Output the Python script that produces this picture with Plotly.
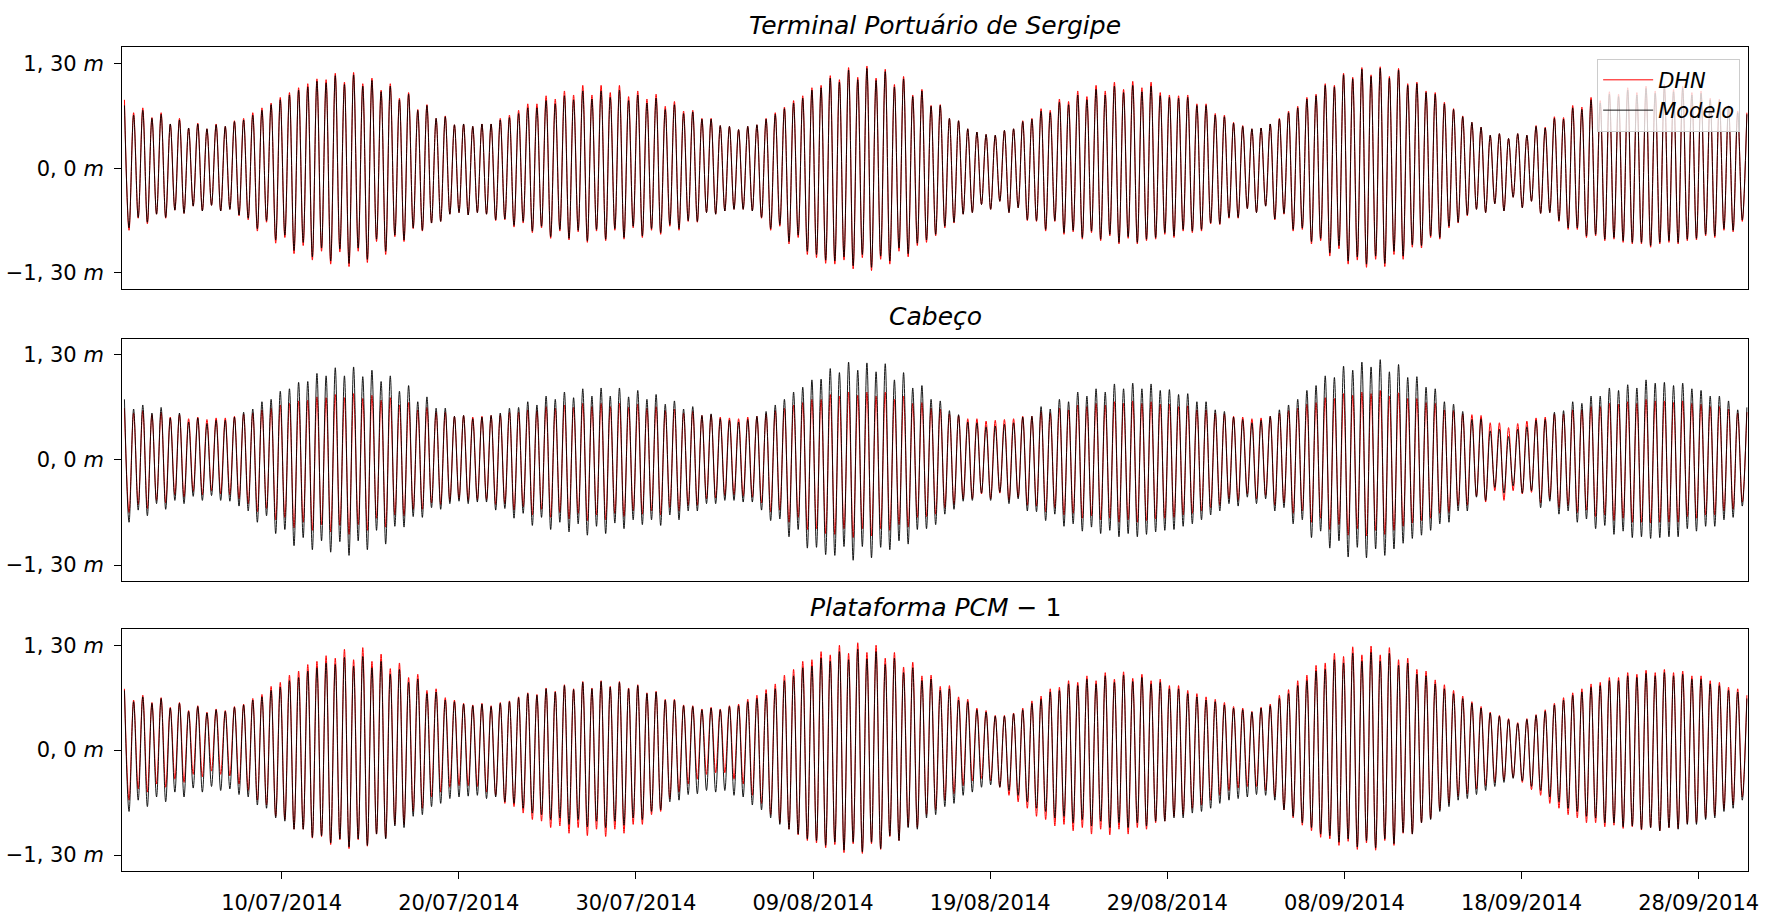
import pandas as pd
import plotly.graph_objects as go

# Tide extremes (metres): alternating high / low waters, first high at 01/07/2014 03:00
FIRST_HIGH = "2014-07-01 03:00"
TIDE_PERIOD_H = 12.42

# ---------------- Terminal Portuário de Sergipe ----------------
tps_dhn_high = [
    0.85, 0.69, 0.75, 0.63, 0.69, 0.55, 0.62, 0.50, 0.56, 0.49,
    0.55, 0.52, 0.59, 0.62, 0.69, 0.75, 0.81, 0.88, 0.94, 1.00,
    1.05, 1.11, 1.10, 1.18, 1.07, 1.19, 1.05, 1.12, 0.97, 1.05,
    0.87, 0.94, 0.73, 0.79, 0.62, 0.65, 0.54, 0.55, 0.52, 0.55,
    0.55, 0.62, 0.66, 0.72, 0.80, 0.80, 0.90, 0.86, 0.96, 0.91,
    1.03, 0.91, 1.03, 0.94, 1.03, 0.89, 0.96,
    0.86, 0.92, 0.77, 0.83, 0.71, 0.72, 0.62, 0.62, 0.53, 0.52,
    0.48, 0.52, 0.54, 0.62, 0.69, 0.76, 0.84, 0.90, 1.00, 1.03,
    1.15, 1.10, 1.25, 1.13, 1.27, 1.12, 1.23, 1.04, 1.14, 0.91,
    0.98, 0.78, 0.79, 0.62, 0.59, 0.49, 0.45, 0.42, 0.41, 0.47,
    0.49, 0.59, 0.62, 0.74, 0.72, 0.86, 0.83, 0.96, 0.89, 1.03,
    0.96, 1.07, 0.98, 1.08, 1.00, 1.07, 0.94, 0.91, 0.90, 0.91,
    0.80, 0.80, 0.68, 0.66, 0.57, 0.53, 0.49, 0.50, 0.55, 0.62,
    0.71, 0.77, 0.88, 0.92, 1.05, 1.03, 1.18, 1.13, 1.25, 1.16,
    1.26, 1.14, 1.24, 1.05, 1.07, 0.96, 0.94, 0.82, 0.74, 0.65,
    0.57, 0.51, 0.41, 0.43, 0.37, 0.43, 0.41, 0.53, 0.51, 0.64,
    0.63, 0.78, 0.76, 0.88, 0.84, 0.95, 0.92, 1.00, 0.94, 1.02,
    0.96, 1.04, 0.98, 1.02, 0.94, 0.96, 0.87, 0.86, 0.78, 0.71,
    0.69,
]
tps_dhn_low = [
    -0.77, -0.62, -0.69, -0.57, -0.62, -0.52, -0.56, -0.47, -0.53, -0.46,
    -0.53, -0.51, -0.59, -0.64, -0.78, -0.67, -0.93, -0.86, -1.06, -0.96,
    -1.14, -1.03, -1.19, -1.04, -1.22, -1.03, -1.17, -0.91, -1.07, -0.85,
    -0.91, -0.75, -0.78, -0.68, -0.66, -0.57, -0.55, -0.58, -0.55, -0.57,
    -0.65, -0.64, -0.73, -0.68, -0.80, -0.74, -0.87, -0.78, -0.89, -0.79,
    -0.92, -0.78, -0.90, -0.77, -0.88, -0.74, -0.86,
    -0.77, -0.82, -0.72, -0.77, -0.66, -0.67, -0.55, -0.57, -0.53, -0.51,
    -0.51, -0.53, -0.62, -0.77, -0.72, -0.94, -0.86, -1.07, -1.11, -1.18,
    -1.19, -1.14, -1.25, -1.11, -1.27, -1.13, -1.19, -1.03, -1.10, -0.96,
    -0.92, -0.84, -0.74, -0.68, -0.57, -0.55, -0.45, -0.51, -0.41, -0.55,
    -0.49, -0.65, -0.66, -0.78, -0.66, -0.82, -0.79, -0.88, -0.80, -0.90,
    -0.84, -0.94, -0.87, -0.94, -0.90, -0.88, -0.82, -0.86, -0.78,
    -0.80, -0.78, -0.69, -0.70, -0.62, -0.62, -0.50, -0.55, -0.47, -0.64,
    -0.57, -0.78, -0.76, -0.94, -0.90, -1.09, -1.00, -1.19, -1.14, -1.23,
    -1.13, -1.22, -1.07, -1.13, -0.98, -0.99, -0.86, -0.88, -0.74, -0.68,
    -0.59, -0.51, -0.55, -0.44, -0.53, -0.36, -0.49, -0.41, -0.56, -0.55,
    -0.66, -0.76, -0.76, -0.86, -0.84, -0.90, -0.88, -0.92, -0.94, -0.94,
    -0.98, -0.94, -0.92, -0.94, -0.90, -0.89, -0.84, -0.86, -0.77, -0.79,
    -0.66,
]
tps_mod_high = [
    0.78, 0.66, 0.72, 0.62, 0.67, 0.55, 0.60, 0.50, 0.55, 0.49,
    0.54, 0.52, 0.58, 0.60, 0.66, 0.72, 0.79, 0.85, 0.91, 0.97,
    1.01, 1.08, 1.06, 1.15, 1.04, 1.16, 1.02, 1.09, 0.95, 1.02,
    0.85, 0.92, 0.72, 0.78, 0.62, 0.64, 0.54, 0.55, 0.52, 0.55,
    0.55, 0.60, 0.63, 0.68, 0.75, 0.75, 0.84, 0.80, 0.90, 0.85,
    0.96, 0.86, 0.96, 0.88, 0.97, 0.84, 0.91,
    0.81, 0.87, 0.73, 0.79, 0.68, 0.70, 0.61, 0.61, 0.53, 0.52,
    0.48, 0.52, 0.54, 0.61, 0.67, 0.74, 0.81, 0.87, 0.97, 1.00,
    1.12, 1.07, 1.22, 1.10, 1.24, 1.09, 1.20, 1.01, 1.11, 0.89,
    0.96, 0.77, 0.78, 0.62, 0.59, 0.49, 0.45, 0.42, 0.41, 0.47,
    0.49, 0.58, 0.61, 0.71, 0.69, 0.82, 0.79, 0.91, 0.85, 0.98,
    0.91, 1.02, 0.94, 1.03, 0.95, 1.02, 0.90, 0.88, 0.87, 0.88,
    0.78, 0.78, 0.66, 0.64, 0.56, 0.52, 0.49, 0.50, 0.55, 0.61,
    0.69, 0.75, 0.86, 0.90, 1.03, 1.01, 1.16, 1.11, 1.23, 1.14,
    1.24, 1.12, 1.22, 1.03, 1.05, 0.94, 0.92, 0.80, 0.73, 0.64,
    0.57, 0.51, 0.41, 0.43, 0.37, 0.43, 0.41, 0.52, 0.50, 0.62,
    0.61, 0.75, 0.73, 0.85, 0.81, 0.92, 0.89, 0.97, 0.91, 0.99,
    0.93, 1.01, 0.95, 0.99, 0.91, 0.93, 0.85, 0.84, 0.76, 0.69,
    0.67,
]
tps_mod_low = [
    -0.74, -0.61, -0.67, -0.57, -0.61, -0.52, -0.56, -0.47, -0.53, -0.46,
    -0.53, -0.51, -0.58, -0.62, -0.75, -0.65, -0.89, -0.83, -1.02, -0.92,
    -1.10, -0.99, -1.15, -1.00, -1.18, -0.99, -1.13, -0.88, -1.03, -0.83,
    -0.89, -0.74, -0.77, -0.68, -0.66, -0.57, -0.55, -0.58, -0.55, -0.57,
    -0.64, -0.63, -0.71, -0.66, -0.78, -0.72, -0.85, -0.76, -0.87, -0.77,
    -0.90, -0.76, -0.88, -0.75, -0.86, -0.72, -0.84,
    -0.75, -0.80, -0.70, -0.75, -0.65, -0.66, -0.55, -0.57, -0.53, -0.51,
    -0.51, -0.53, -0.61, -0.75, -0.70, -0.91, -0.83, -1.03, -1.07, -1.14,
    -1.15, -1.10, -1.21, -1.07, -1.23, -1.09, -1.15, -0.99, -1.06, -0.93,
    -0.89, -0.82, -0.72, -0.67, -0.57, -0.55, -0.45, -0.51, -0.41, -0.55,
    -0.49, -0.64, -0.65, -0.76, -0.65, -0.80, -0.77, -0.86, -0.78, -0.88,
    -0.82, -0.92, -0.85, -0.92, -0.88, -0.86, -0.80, -0.84, -0.76,
    -0.78, -0.76, -0.68, -0.69, -0.61, -0.61, -0.50, -0.55, -0.47, -0.63,
    -0.56, -0.76, -0.74, -0.91, -0.87, -1.05, -0.96, -1.15, -1.10, -1.19,
    -1.09, -1.18, -1.03, -1.09, -0.95, -0.96, -0.84, -0.86, -0.72, -0.67,
    -0.58, -0.51, -0.55, -0.44, -0.53, -0.36, -0.49, -0.41, -0.56, -0.55,
    -0.65, -0.74, -0.74, -0.84, -0.82, -0.88, -0.86, -0.90, -0.92, -0.92,
    -0.96, -0.92, -0.90, -0.92, -0.88, -0.87, -0.82, -0.84, -0.75, -0.77,
    -0.64,
]

# ---------------- Cabeço ----------------
cab_dhn_high = [
    0.64, 0.58, 0.61, 0.56, 0.59, 0.53, 0.56, 0.51, 0.53, 0.50,
    0.52, 0.52, 0.54, 0.57, 0.58, 0.62, 0.64, 0.68, 0.70, 0.73,
    0.74, 0.78, 0.77, 0.81, 0.77, 0.82, 0.76, 0.80, 0.74, 0.77,
    0.68, 0.71, 0.62, 0.65, 0.59, 0.59, 0.54, 0.55, 0.53, 0.54,
    0.55, 0.56, 0.59, 0.59, 0.62, 0.61, 0.66, 0.64, 0.68, 0.65,
    0.70, 0.66, 0.70, 0.66, 0.70, 0.65, 0.69,
    0.64, 0.66, 0.61, 0.63, 0.58, 0.60, 0.55, 0.56, 0.53, 0.52,
    0.51, 0.53, 0.54, 0.57, 0.61, 0.64, 0.68, 0.71, 0.75, 0.75,
    0.81, 0.79, 0.84, 0.80, 0.84, 0.79, 0.84, 0.75, 0.79, 0.70,
    0.71, 0.64, 0.63, 0.57, 0.55, 0.51, 0.51, 0.48, 0.49, 0.50,
    0.51, 0.54, 0.54, 0.60, 0.58, 0.64, 0.62, 0.68, 0.66, 0.70,
    0.68, 0.72, 0.70, 0.73, 0.70, 0.72, 0.69, 0.69, 0.66, 0.67,
    0.62, 0.62, 0.58, 0.57, 0.54, 0.53, 0.51, 0.52, 0.54, 0.58,
    0.61, 0.64, 0.69, 0.71, 0.77, 0.76, 0.82, 0.80, 0.84, 0.82,
    0.86, 0.79, 0.83, 0.76, 0.76, 0.71, 0.70, 0.62, 0.61, 0.57,
    0.56, 0.55, 0.46, 0.46, 0.40, 0.45, 0.48, 0.52, 0.53, 0.57,
    0.57, 0.62, 0.62, 0.66, 0.66, 0.70, 0.69, 0.72, 0.70, 0.75,
    0.73, 0.73, 0.71, 0.73, 0.70, 0.69, 0.66, 0.66, 0.63, 0.58,
    0.59,
]
cab_dhn_low = [
    -0.65, -0.55, -0.60, -0.50, -0.53, -0.43, -0.46, -0.39, -0.43, -0.38,
    -0.42, -0.43, -0.48, -0.54, -0.64, -0.60, -0.74, -0.71, -0.84, -0.77,
    -0.87, -0.80, -0.89, -0.81, -0.92, -0.80, -0.87, -0.72, -0.83, -0.68,
    -0.69, -0.61, -0.61, -0.53, -0.55, -0.50, -0.48, -0.50, -0.49, -0.49,
    -0.55, -0.54, -0.62, -0.58, -0.68, -0.61, -0.71, -0.65, -0.73, -0.66,
    -0.75, -0.68, -0.74, -0.66, -0.70, -0.63, -0.67,
    -0.63, -0.68, -0.59, -0.63, -0.56, -0.56, -0.48, -0.47, -0.44, -0.43,
    -0.45, -0.46, -0.53, -0.64, -0.62, -0.77, -0.71, -0.86, -0.85, -0.91,
    -0.92, -0.85, -0.96, -0.85, -0.94, -0.85, -0.87, -0.80, -0.83, -0.71,
    -0.70, -0.67, -0.59, -0.55, -0.48, -0.48, -0.42, -0.48, -0.41, -0.50,
    -0.46, -0.56, -0.57, -0.64, -0.59, -0.68, -0.66, -0.72, -0.69, -0.74,
    -0.72, -0.77, -0.74, -0.77, -0.75, -0.73, -0.72, -0.71, -0.68,
    -0.66, -0.63, -0.59, -0.56, -0.48, -0.50, -0.42, -0.48, -0.44, -0.56,
    -0.53, -0.66, -0.63, -0.77, -0.72, -0.86, -0.80, -0.93, -0.85, -0.94,
    -0.87, -0.92, -0.87, -0.82, -0.78, -0.75, -0.72, -0.66, -0.65, -0.56,
    -0.56, -0.45, -0.52, -0.38, -0.50, -0.38, -0.42, -0.40, -0.53, -0.48,
    -0.59, -0.56, -0.65, -0.62, -0.70, -0.68, -0.75, -0.72, -0.77, -0.77,
    -0.78, -0.77, -0.77, -0.77, -0.70, -0.72, -0.68, -0.68, -0.63, -0.61,
    -0.52,
]
cab_mod_high = [
    0.75, 0.63, 0.68, 0.58, 0.65, 0.52, 0.58, 0.47, 0.52, 0.45,
    0.49, 0.49, 0.53, 0.59, 0.63, 0.72, 0.75, 0.85, 0.88, 0.96,
    0.97, 1.07, 1.04, 1.14, 1.04, 1.15, 1.03, 1.11, 0.97, 1.04,
    0.85, 0.92, 0.72, 0.78, 0.64, 0.64, 0.54, 0.55, 0.51, 0.53,
    0.55, 0.58, 0.64, 0.65, 0.72, 0.68, 0.79, 0.75, 0.84, 0.77,
    0.88, 0.79, 0.89, 0.79, 0.89, 0.78, 0.86,
    0.75, 0.81, 0.69, 0.73, 0.63, 0.66, 0.55, 0.57, 0.51, 0.49,
    0.47, 0.50, 0.54, 0.60, 0.68, 0.75, 0.84, 0.90, 0.99, 1.00,
    1.13, 1.08, 1.21, 1.11, 1.20, 1.09, 1.19, 0.99, 1.08, 0.89,
    0.92, 0.75, 0.73, 0.61, 0.56, 0.47, 0.46, 0.41, 0.42, 0.44,
    0.46, 0.53, 0.54, 0.66, 0.63, 0.75, 0.72, 0.84, 0.79, 0.88,
    0.84, 0.94, 0.88, 0.95, 0.88, 0.94, 0.86, 0.87, 0.81, 0.82,
    0.72, 0.72, 0.62, 0.60, 0.53, 0.50, 0.46, 0.49, 0.54, 0.62,
    0.68, 0.75, 0.86, 0.92, 1.04, 1.02, 1.16, 1.11, 1.21, 1.15,
    1.24, 1.09, 1.18, 1.02, 1.03, 0.90, 0.88, 0.72, 0.69, 0.60,
    0.50, 0.51, 0.36, 0.38, 0.29, 0.38, 0.41, 0.49, 0.50, 0.59,
    0.61, 0.72, 0.70, 0.79, 0.79, 0.89, 0.86, 0.93, 0.89, 0.99,
    0.95, 0.96, 0.92, 0.95, 0.88, 0.86, 0.79, 0.79, 0.73, 0.62,
    0.65,
]
cab_mod_low = [
    -0.77, -0.62, -0.69, -0.54, -0.61, -0.50, -0.54, -0.45, -0.50, -0.44,
    -0.50, -0.51, -0.57, -0.63, -0.77, -0.69, -0.91, -0.86, -1.06, -0.96,
    -1.11, -1.00, -1.14, -1.01, -1.18, -1.00, -1.11, -0.87, -1.04, -0.82,
    -0.83, -0.70, -0.71, -0.59, -0.61, -0.54, -0.51, -0.54, -0.52, -0.52,
    -0.62, -0.60, -0.72, -0.66, -0.81, -0.71, -0.86, -0.77, -0.89, -0.79,
    -0.93, -0.82, -0.91, -0.78, -0.85, -0.74, -0.80,
    -0.74, -0.81, -0.68, -0.74, -0.63, -0.63, -0.54, -0.54, -0.50, -0.50,
    -0.52, -0.52, -0.62, -0.75, -0.73, -0.95, -0.86, -1.09, -1.08, -1.17,
    -1.18, -1.07, -1.24, -1.07, -1.21, -1.08, -1.11, -1.00, -1.04, -0.86,
    -0.85, -0.80, -0.67, -0.61, -0.51, -0.50, -0.41, -0.50, -0.40, -0.54,
    -0.48, -0.63, -0.64, -0.75, -0.67, -0.82, -0.79, -0.88, -0.83, -0.91,
    -0.87, -0.95, -0.91, -0.95, -0.92, -0.89, -0.87, -0.86, -0.82,
    -0.79, -0.74, -0.68, -0.63, -0.54, -0.57, -0.46, -0.54, -0.48, -0.63,
    -0.59, -0.79, -0.74, -0.96, -0.88, -1.09, -1.00, -1.20, -1.08, -1.21,
    -1.10, -1.18, -1.10, -1.03, -0.97, -0.93, -0.87, -0.79, -0.77, -0.63,
    -0.63, -0.46, -0.50, -0.34, -0.41, -0.32, -0.41, -0.38, -0.59, -0.51,
    -0.67, -0.63, -0.77, -0.73, -0.85, -0.81, -0.92, -0.88, -0.96, -0.95,
    -0.97, -0.96, -0.95, -0.95, -0.85, -0.88, -0.82, -0.82, -0.74, -0.71,
    -0.57,
]

# ---------------- Plataforma PCM-1 ----------------
pcm_dhn_high = [
    0.76, 0.62, 0.68, 0.59, 0.65, 0.53, 0.59, 0.49, 0.55, 0.47,
    0.51, 0.49, 0.54, 0.57, 0.64, 0.69,
    0.79, 0.84, 0.93, 0.98, 1.06, 1.10, 1.17, 1.14, 1.25, 1.12, 1.27, 1.10, 1.19, 1.01, 1.08, 0.90, 0.94,
    0.74, 0.76, 0.65, 0.62, 0.58, 0.56, 0.58, 0.55, 0.59, 0.61, 0.66,
    0.71, 0.69, 0.77, 0.73, 0.81, 0.76, 0.85, 0.77, 0.86, 0.79, 0.85, 0.77, 0.81, 0.71, 0.73,
    0.63, 0.63, 0.56, 0.55, 0.51, 0.53, 0.51, 0.55, 0.57, 0.63, 0.68, 0.75, 0.82,
    0.93, 1.00, 1.10, 1.12, 1.22, 1.18, 1.30, 1.20, 1.33, 1.21, 1.30, 1.14, 1.21, 1.03, 1.09,
    0.92, 0.93, 0.79, 0.80, 0.66, 0.63, 0.52, 0.49, 0.43, 0.43, 0.46, 0.52,
    0.61, 0.67, 0.76, 0.78, 0.86, 0.84, 0.92, 0.86, 0.96, 0.88, 0.97, 0.89, 0.94, 0.86, 0.88, 0.80, 0.80, 0.74,
    0.70, 0.66, 0.63, 0.59, 0.54, 0.52, 0.48, 0.53, 0.57,
    0.68, 0.75, 0.86, 0.93, 1.05, 1.08, 1.20, 1.16, 1.28, 1.18, 1.29, 1.18, 1.27, 1.12, 1.14, 1.00, 0.98, 0.87, 0.81, 0.74,
    0.67, 0.60, 0.54, 0.47, 0.43, 0.39, 0.34, 0.39, 0.44, 0.50, 0.58,
    0.65, 0.71, 0.76, 0.82, 0.84, 0.90, 0.90, 0.96, 0.94, 0.99, 0.96, 1.00, 0.96, 0.98, 0.92, 0.92, 0.86, 0.84, 0.78, 0.76, 0.68,
]
pcm_dhn_low = [
    -0.62, -0.48, -0.52, -0.42, -0.46, -0.36, -0.40, -0.30, -0.33, -0.26,
    -0.30, -0.32, -0.42, -0.50, -0.62, -0.68,
    -0.82, -0.86, -0.98, -0.98, -1.09, -1.07, -1.17, -1.11, -1.22, -1.11, -1.19, -1.04, -1.09, -0.92, -0.92, -0.76, -0.72,
    -0.58, -0.52, -0.46, -0.44, -0.44, -0.45, -0.52, -0.56, -0.66, -0.70, -0.78,
    -0.86, -0.88, -0.96, -0.94, -1.03, -0.96, -1.06, -0.98, -1.07, -0.98, -1.03, -0.92, -0.92, -0.80, -0.76,
    -0.60, -0.52, -0.42, -0.36, -0.30, -0.28, -0.28, -0.36, -0.42, -0.56, -0.66, -0.80, -0.90,
    -0.98, -1.05, -1.12, -1.15, -1.21, -1.17, -1.27, -1.16, -1.28, -1.16, -1.23, -1.07, -1.12, -0.95, -0.96,
    -0.80, -0.74, -0.62, -0.54, -0.44, -0.38, -0.35, -0.38, -0.46, -0.56, -0.64, -0.72,
    -0.82, -0.86, -0.94, -0.92, -1.00, -0.96, -1.04, -0.98, -1.05, -0.98, -1.04, -0.96, -0.98, -0.90, -0.88, -0.82, -0.80, -0.72,
    -0.68, -0.62, -0.56, -0.50, -0.47, -0.45, -0.45, -0.50, -0.58,
    -0.74, -0.84, -0.93, -1.00, -1.08, -1.10, -1.18, -1.13, -1.23, -1.15, -1.24, -1.12, -1.18, -1.03, -1.04, -0.90, -0.85, -0.74, -0.66, -0.57,
    -0.54, -0.48, -0.44, -0.40, -0.37, -0.34, -0.40, -0.49, -0.56, -0.66, -0.72,
    -0.80, -0.84, -0.90, -0.90, -0.95, -0.93, -0.97, -0.95, -0.99, -0.96, -1.00, -0.96, -0.97, -0.91, -0.90, -0.84, -0.81, -0.73, -0.68, -0.58,
]
pcm_mod_high = [
    0.74, 0.60, 0.66, 0.58, 0.64, 0.52, 0.58, 0.48, 0.54, 0.46,
    0.50, 0.48, 0.53, 0.56, 0.62, 0.66,
    0.74, 0.78, 0.86, 0.90, 0.98, 1.02, 1.08, 1.06, 1.15, 1.04, 1.16, 1.02, 1.10, 0.94, 1.00, 0.84, 0.88,
    0.70, 0.72, 0.62, 0.60, 0.57, 0.55, 0.57, 0.54, 0.58, 0.60, 0.65,
    0.70, 0.68, 0.76, 0.72, 0.80, 0.75, 0.84, 0.76, 0.85, 0.78, 0.84, 0.76, 0.80, 0.70, 0.72,
    0.62, 0.62, 0.55, 0.54, 0.50, 0.52, 0.50, 0.54, 0.55, 0.60, 0.64, 0.70, 0.76,
    0.86, 0.92, 1.02, 1.04, 1.14, 1.10, 1.22, 1.12, 1.25, 1.13, 1.22, 1.06, 1.14, 0.96, 1.02,
    0.86, 0.88, 0.74, 0.76, 0.62, 0.60, 0.50, 0.47, 0.42, 0.42, 0.45, 0.50,
    0.58, 0.63, 0.72, 0.74, 0.82, 0.80, 0.88, 0.82, 0.92, 0.84, 0.93, 0.85, 0.90, 0.82, 0.84, 0.76, 0.76, 0.70,
    0.66, 0.62, 0.60, 0.56, 0.52, 0.50, 0.47, 0.52, 0.55,
    0.64, 0.70, 0.80, 0.86, 0.98, 1.00, 1.12, 1.08, 1.20, 1.10, 1.21, 1.10, 1.20, 1.05, 1.08, 0.94, 0.92, 0.82, 0.76, 0.70,
    0.64, 0.58, 0.52, 0.46, 0.42, 0.38, 0.33, 0.38, 0.43, 0.48, 0.56,
    0.62, 0.68, 0.72, 0.78, 0.80, 0.86, 0.86, 0.92, 0.90, 0.95, 0.92, 0.96, 0.92, 0.94, 0.88, 0.88, 0.82, 0.80, 0.74, 0.72, 0.64,
]
pcm_mod_low = [
    -0.76, -0.62, -0.70, -0.58, -0.64, -0.52, -0.58, -0.47, -0.52, -0.45,
    -0.50, -0.48, -0.55, -0.58, -0.68, -0.72,
    -0.84, -0.88, -0.98, -0.98, -1.08, -1.06, -1.15, -1.10, -1.20, -1.10, -1.18, -1.04, -1.10, -0.94, -0.96, -0.82, -0.80,
    -0.70, -0.66, -0.60, -0.58, -0.57, -0.56, -0.60, -0.58, -0.64, -0.66, -0.72,
    -0.78, -0.80, -0.86, -0.84, -0.92, -0.86, -0.95, -0.88, -0.96, -0.88, -0.93, -0.84, -0.86, -0.76, -0.74,
    -0.64, -0.62, -0.55, -0.54, -0.50, -0.52, -0.50, -0.56, -0.58, -0.68, -0.74, -0.84, -0.92,
    -0.98, -1.04, -1.10, -1.12, -1.18, -1.14, -1.24, -1.14, -1.26, -1.14, -1.22, -1.06, -1.12, -0.96, -0.98,
    -0.84, -0.80, -0.70, -0.66, -0.56, -0.52, -0.46, -0.43, -0.46, -0.50, -0.56, -0.64,
    -0.72, -0.76, -0.84, -0.82, -0.90, -0.86, -0.94, -0.88, -0.96, -0.90, -0.96, -0.90, -0.94, -0.88, -0.88, -0.84, -0.84, -0.78,
    -0.76, -0.72, -0.66, -0.62, -0.60, -0.58, -0.55, -0.56, -0.62,
    -0.74, -0.82, -0.90, -0.96, -1.04, -1.06, -1.14, -1.10, -1.20, -1.12, -1.21, -1.10, -1.16, -1.02, -1.04, -0.90, -0.86, -0.76, -0.70, -0.62,
    -0.60, -0.55, -0.50, -0.45, -0.40, -0.35, -0.38, -0.45, -0.50, -0.58, -0.64,
    -0.72, -0.76, -0.82, -0.84, -0.90, -0.90, -0.95, -0.94, -0.98, -0.96, -1.00, -0.96, -0.98, -0.92, -0.92, -0.86, -0.84, -0.76, -0.72, -0.62,
]

stations = [
    ("<i>Terminal Portuário de Sergipe</i>", tps_dhn_high, tps_dhn_low, tps_mod_high, tps_mod_low),
    ("<i>Cabeço</i>", cab_dhn_high, cab_dhn_low, cab_mod_high, cab_mod_low),
    ("<i>Plataforma PCM</i> − 1", pcm_dhn_high, pcm_dhn_low, pcm_mod_high, pcm_mod_low),
]

y_ticks = [-1.3, 0.0, 1.3]
y_tick_text = ["−1, 30 <i>m</i>", "0, 0 <i>m</i>", "1, 30 <i>m</i>"]
x_ticks = ["2014-07-10", "2014-07-20", "2014-07-30", "2014-08-09", "2014-08-19",
           "2014-08-29", "2014-09-08", "2014-09-18", "2014-09-28"]
X_RANGE = ["2014-07-01 00:00", "2014-09-30 19:00"]


def tide_curve(highs, lows):
    """Interleave high and low waters on their tide times."""
    t0 = pd.Timestamp(FIRST_HIGH)
    step = pd.Timedelta(hours=TIDE_PERIOD_H)
    half = pd.Timedelta(hours=TIDE_PERIOD_H / 2)
    xs, ys = [], []
    for k, h in enumerate(highs):
        t = t0 + k * step
        xs.append(t)
        ys.append(h)
        if k < len(lows):
            xs.append(t + half)
            ys.append(lows[k])
    return xs, ys


W, H = 1775, 915
x_dom = [123 / W, 1759 / W]
panel_px = [(47.7, 290.7), (340.5, 584.5), (632.5, 876.0)]

FONT = "DejaVu Sans"
TICK_SIZE = 21
fig = go.Figure()
layout = dict(
    width=W, height=H,
    margin=dict(l=0, r=0, t=0, b=0),
    paper_bgcolor="white", plot_bgcolor="white",
    font=dict(family=FONT, size=TICK_SIZE, color="black"),
    showlegend=True,
    legend=dict(
        x=1751 / W, y=1 - 59 / H, xanchor="right", yanchor="top",
        bgcolor="rgba(255,255,255,0.8)", bordercolor="#cccccc", borderwidth=1,
        font=dict(family=FONT, size=21, color="black"),
        tracegroupgap=0, itemwidth=50,
    ),
    annotations=[],
)

for i, (title, dh, dl, mh, ml) in enumerate(stations):
    n = "" if i == 0 else str(i + 1)
    top_px, bot_px = panel_px[i]
    y_dom = [1 - bot_px / H, 1 - top_px / H]
    xa, ya = "x" + n, "y" + n

    xd, yd = tide_curve(dh, dl)
    xm, ym = tide_curve(mh, ml)
    fig.add_trace(go.Scatter(
        x=xd, y=yd, xaxis=xa, yaxis=ya, mode="lines", name="<i>DHN</i>",
        line=dict(color="red", width=1.0, shape="spline", smoothing=1.0),
        showlegend=(i == 0), hoverinfo="skip",
    ))
    fig.add_trace(go.Scatter(
        x=xm, y=ym, xaxis=xa, yaxis=ya, mode="lines", name="<i>Modelo</i>",
        line=dict(color="black", width=0.9, shape="spline", smoothing=1.0),
        showlegend=(i == 0), hoverinfo="skip",
    ))

    bottom = i == len(stations) - 1
    layout["xaxis" + n] = dict(
        domain=x_dom, anchor=ya, type="date", range=X_RANGE,
        showline=True, mirror=True, linecolor="black", linewidth=1.3,
        showgrid=False, zeroline=False,
        tickvals=x_ticks if bottom else [], tickformat="%d/%m/%Y",
        ticks="outside" if bottom else "", ticklen=7, tickwidth=1.2, tickcolor="black",
        showticklabels=bottom, ticklabelstandoff=5,
        tickfont=dict(family=FONT, size=TICK_SIZE, color="black"),
    )
    layout["yaxis" + n] = dict(
        domain=y_dom, anchor=xa, range=[-1.5, 1.5],
        showline=True, mirror=True, linecolor="black", linewidth=1.3,
        showgrid=False, zeroline=False,
        tickvals=y_ticks, ticktext=y_tick_text,
        ticks="outside", ticklen=7, tickwidth=1.2, tickcolor="black",
        ticklabelstandoff=6,
        tickfont=dict(family=FONT, size=TICK_SIZE, color="black"),
    )
    layout["annotations"].append(dict(
        text=title, xref="paper", yref="paper",
        x=(x_dom[0] + x_dom[1]) / 2, y=1 - (top_px - 22) / H,
        xanchor="center", yanchor="middle", showarrow=False,
        font=dict(family=FONT, size=25, color="black"),
    ))

fig.update_layout(**layout)
fig.write_html("out.html")
